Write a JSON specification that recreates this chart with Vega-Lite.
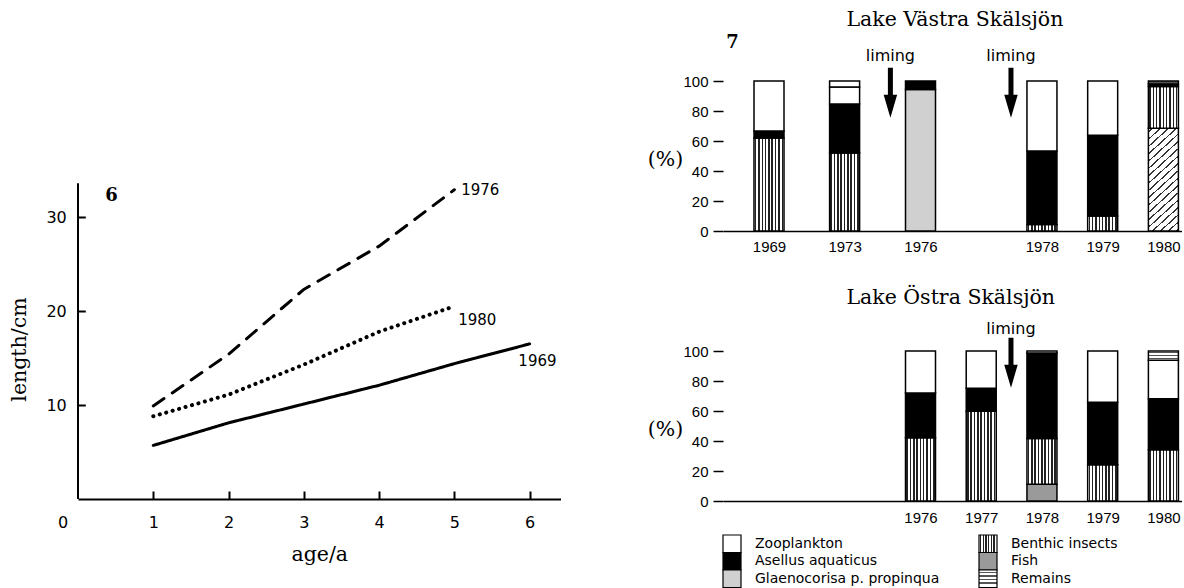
{
  "$schema": "https://vega.github.io/schema/vega-lite/v6.json",
  "background": "white",
  "padding": {"left": 9, "top": 9, "right": 0, "bottom": 0},
  "config": {
    "view": {"stroke": null},
    "axis": {"domainColor": "black", "tickColor": "black", "labelColor": "black", "titleColor": "black", "grid": false, "labelFlush": false, "labelOverlap": false},
    "title": {"color": "black"}
  },
  "spacing": 86,
  "hconcat": [
    {
      "width": 482.5,
      "height": 418,
      "layer": [
        {
          "data": {"values": [
            {"series": "1976", "age": 1, "length": 9.9},
            {"series": "1976", "age": 2, "length": 15.4},
            {"series": "1976", "age": 3, "length": 22.3},
            {"series": "1976", "age": 4, "length": 26.9},
            {"series": "1976", "age": 5, "length": 32.9},
            {"series": "1980", "age": 1, "length": 8.8},
            {"series": "1980", "age": 2, "length": 11.1},
            {"series": "1980", "age": 3, "length": 14.3},
            {"series": "1980", "age": 4, "length": 17.8},
            {"series": "1980", "age": 5, "length": 20.5},
            {"series": "1969", "age": 1, "length": 5.7},
            {"series": "1969", "age": 2, "length": 8.1},
            {"series": "1969", "age": 3, "length": 10.1},
            {"series": "1969", "age": 4, "length": 12.1},
            {"series": "1969", "age": 5, "length": 14.4},
            {"series": "1969", "age": 6, "length": 16.5}
          ]},
          "layer": [
            {
              "transform": [{"filter": "datum.series !== '1980'"}],
              "mark": {"type": "line", "color": "black", "strokeWidth": 3, "strokeCap": "round"},
              "encoding": {
                "x": {
                  "field": "age", "type": "quantitative",
                  "scale": {"domain": [0, 6.41], "nice": false, "zero": false},
                  "axis": {
                    "values": [0, 1, 2, 3, 4, 5, 6], "format": "d", "labelOverlap": false,
                    "title": "age/a", "titleFont": "DejaVu Serif", "titleFontSize": 20.5, "titleFontWeight": "normal", "titlePadding": 14,
                    "labelFont": "DejaVu Sans", "labelFontSize": 16, "labelPadding": 23.5,
                    "tickSize": -8, "tickWidth": 2, "domainWidth": 2,
                    "labelOffset": {"condition": {"test": "datum.value === 0", "value": -15.5}, "value": 0},
                    "tickOpacity": {"condition": {"test": "datum.value === 0", "value": 0}, "value": 1}
                  }
                },
                "y": {
                  "field": "length", "type": "quantitative",
                  "scale": {"domain": [0, 44.47], "nice": false, "zero": false},
                  "axis": {
                    "values": [10, 20, 30], "domain": false, "labelOverlap": false,
                    "title": "length/cm", "titleFont": "DejaVu Serif", "titleFontSize": 20.5, "titleFontWeight": "normal", "titlePadding": 16, "titleY": 268,
                    "labelFont": "DejaVu Sans", "labelFontSize": 16, "labelPadding": 19,
                    "tickSize": -7.3, "tickWidth": 2
                  }
                },
                "strokeDash": {"field": "series", "type": "nominal", "scale": {"domain": ["1969", "1976"], "range": [[1, 0], [13, 10]]}, "legend": null}
              }
            },
            {
              "transform": [{"filter": "datum.series === '1980'"}],
              "mark": {"type": "line", "color": "black", "strokeWidth": 4, "strokeCap": "round", "strokeDash": [0.1, 6.6]},
              "encoding": {
                "x": {"field": "age", "type": "quantitative"},
                "y": {"field": "length", "type": "quantitative"}
              }
            }
          ]
        },
        {
          "data": {"values": [{}]},
          "mark": {"type": "rule", "strokeWidth": 2, "color": "black"},
          "encoding": {"x": {"datum": 0}, "y": {"datum": 0}, "y2": {"datum": 33.6}}
        },
        {
          "data": {"values": [{}]},
          "mark": {"type": "text", "text": "1976", "align": "left", "baseline": "middle", "font": "DejaVu Sans", "fontSize": 15, "color": "black"},
          "encoding": {"x": {"datum": 5.09}, "y": {"datum": 32.85}}
        },
        {
          "data": {"values": [{}]},
          "mark": {"type": "text", "text": "1980", "align": "left", "baseline": "middle", "font": "DejaVu Sans", "fontSize": 15, "color": "black"},
          "encoding": {"x": {"datum": 5.05}, "y": {"datum": 19.0}}
        },
        {
          "data": {"values": [{}]},
          "mark": {"type": "text", "text": "1969", "align": "left", "baseline": "middle", "font": "DejaVu Sans", "fontSize": 15, "color": "black"},
          "encoding": {"x": {"datum": 5.85}, "y": {"datum": 14.66}}
        },
        {
          "data": {"values": [{}]},
          "mark": {"type": "text", "text": "6", "align": "center", "baseline": "middle", "font": "DejaVu Serif", "fontSize": 18, "fontWeight": "bold", "color": "black"},
          "encoding": {"x": {"datum": 0.445}, "y": {"datum": 32.2}}
        }
      ]
    },
    {
      "spacing": 33,
      "vconcat": [
        {
          "width": 459,
          "height": 150,
          "title": {"text": "Lake Västra Skälsjön", "font": "DejaVu Serif", "fontSize": 20.5, "fontWeight": "normal", "anchor": "start", "frame": "group", "dx": 123.4, "offset": 3.4, "color": "black"},
          "resolve": {"scale": {"y": "independent"}, "axis": {"y": "independent"}},
          "layer": [
            {
              "data": {"values": [
                {"year": 1969, "cat": "Benthic insects", "pct": 62},
                {"year": 1969, "cat": "Asellus aquaticus", "pct": 4.7},
                {"year": 1969, "cat": "Zooplankton", "pct": 33.3},
                {"year": 1973, "cat": "Benthic insects", "pct": 52},
                {"year": 1973, "cat": "Asellus aquaticus", "pct": 32.6},
                {"year": 1973, "cat": "Zooplankton", "pct": 11.4},
                {"year": 1973, "cat": "Remains", "pct": 4},
                {"year": 1976, "cat": "Glaenocorisa p. propinqua", "pct": 94.4},
                {"year": 1976, "cat": "Asellus aquaticus", "pct": 5.6},
                {"year": 1978, "cat": "Benthic insects", "pct": 4.4},
                {"year": 1978, "cat": "Asellus aquaticus", "pct": 48.9},
                {"year": 1978, "cat": "Zooplankton", "pct": 46.7},
                {"year": 1979, "cat": "Benthic insects", "pct": 10},
                {"year": 1979, "cat": "Asellus aquaticus", "pct": 53.8},
                {"year": 1979, "cat": "Zooplankton", "pct": 36.2},
                {"year": 1980, "cat": "Other", "pct": 68.5},
                {"year": 1980, "cat": "Benthic insects", "pct": 27.8},
                {"year": 1980, "cat": "Asellus aquaticus", "pct": 1.7},
                {"year": 1980, "cat": "Remains", "pct": 2}
              ]},
              "transform": [{"calculate": "indexof(['Other','Fish','Glaenocorisa p. propinqua','Benthic insects','Asellus aquaticus','Zooplankton','Remains'], datum.cat)", "as": "so"}],
              "mark": {"type": "bar", "width": 30, "stroke": "black", "strokeWidth": 1.5},
              "encoding": {
                "x": {
                  "field": "year", "type": "quantitative",
                  "scale": {"type": "linear", "domain": [1966, 1969, 1973, 1976, 1980, 1980.31], "range": [0, 46, 121.6, 197.5, 440.4, 459], "nice": false, "zero": false},
                  "axis": {"values": [1969, 1973, 1976, 1978, 1979, 1980], "format": "d", "title": null, "ticks": false, "labelOverlap": false, "labelPadding": 8, "labelFont": "Liberation Sans Narrow, Liberation Sans", "labelFontSize": 15, "domainWidth": 1.5}
                },
                "y": {
                  "field": "pct", "type": "quantitative", "stack": "zero",
                  "scale": {"domain": [0, 100], "nice": false},
                  "axis": {"values": [0, 20, 40, 60, 80, 100], "labelOverlap": false, "labelSeparation": -30, "title": "(%)", "titleAngle": 0, "titleFont": "DejaVu Serif", "titleFontSize": 20.5, "titleFontWeight": "normal", "titleAlign": "right", "titleBaseline": "middle", "titleX": -40.3, "titleY": 78.3, "domain": false, "tickSize": 10, "tickWidth": 1.5, "labelPadding": 5, "labelFont": "Liberation Sans Narrow, Liberation Sans", "labelFontSize": 15}
                },
                "fill": {
                  "field": "cat", "type": "nominal", "legend": null,
                  "scale": {
                    "domain": ["Zooplankton", "Benthic insects", "Asellus aquaticus", "Fish", "Glaenocorisa p. propinqua", "Remains", "Other"],
                    "range": ["white", "#777777", "black", "#9a9a9a", "#d0d0d0", "#aaaaaa", "#bbbbbb"]
                  },
                  "condition": [
                    {"test": "datum.cat === 'Benthic insects'", "value": {"gradient": "linear", "x1": 0, "y1": 0, "x2": 1, "y2": 0, "stops": [
                      {"offset": 0, "color": "white"},
                      {"offset": 0.028, "color": "white"}, {"offset": 0.028, "color": "#222"}, {"offset": 0.078, "color": "#222"}, {"offset": 0.078, "color": "white"},
                      {"offset": 0.139, "color": "white"}, {"offset": 0.139, "color": "#222"}, {"offset": 0.189, "color": "#222"}, {"offset": 0.189, "color": "white"},
                      {"offset": 0.25, "color": "white"}, {"offset": 0.25, "color": "#222"}, {"offset": 0.3, "color": "#222"}, {"offset": 0.3, "color": "white"},
                      {"offset": 0.361, "color": "white"}, {"offset": 0.361, "color": "#222"}, {"offset": 0.411, "color": "#222"}, {"offset": 0.411, "color": "white"},
                      {"offset": 0.472, "color": "white"}, {"offset": 0.472, "color": "#222"}, {"offset": 0.522, "color": "#222"}, {"offset": 0.522, "color": "white"},
                      {"offset": 0.583, "color": "white"}, {"offset": 0.583, "color": "#222"}, {"offset": 0.633, "color": "#222"}, {"offset": 0.633, "color": "white"},
                      {"offset": 0.694, "color": "white"}, {"offset": 0.694, "color": "#222"}, {"offset": 0.744, "color": "#222"}, {"offset": 0.744, "color": "white"},
                      {"offset": 0.806, "color": "white"}, {"offset": 0.806, "color": "#222"}, {"offset": 0.856, "color": "#222"}, {"offset": 0.856, "color": "white"},
                      {"offset": 0.917, "color": "white"}, {"offset": 0.917, "color": "#222"}, {"offset": 0.967, "color": "#222"}, {"offset": 0.967, "color": "white"},
                      {"offset": 1, "color": "white"}
                    ]}},
                    {"test": "datum.cat === 'Remains'", "value": {"gradient": "linear", "x1": 0, "y1": 0, "x2": 0, "y2": 1, "stops": [
                      {"offset": 0, "color": "white"},
                      {"offset": 0.1, "color": "white"}, {"offset": 0.1, "color": "#555"}, {"offset": 0.233, "color": "#555"}, {"offset": 0.233, "color": "white"},
                      {"offset": 0.433, "color": "white"}, {"offset": 0.433, "color": "#555"}, {"offset": 0.567, "color": "#555"}, {"offset": 0.567, "color": "white"},
                      {"offset": 0.767, "color": "white"}, {"offset": 0.767, "color": "#555"}, {"offset": 0.9, "color": "#555"}, {"offset": 0.9, "color": "white"},
                      {"offset": 1, "color": "white"}
                    ]}},
                    {"test": "datum.cat === 'Other'", "value": {"gradient": "linear", "x1": 0, "y1": 0, "x2": 0.32, "y2": 1.2, "stops": [
                      {"offset": 0, "color": "white"},
                      {"offset": 0.0217, "color": "white"}, {"offset": 0.0217, "color": "#333"}, {"offset": 0.0339, "color": "#333"}, {"offset": 0.0339, "color": "white"},
                      {"offset": 0.0772, "color": "white"}, {"offset": 0.0772, "color": "#333"}, {"offset": 0.0894, "color": "#333"}, {"offset": 0.0894, "color": "white"},
                      {"offset": 0.1328, "color": "white"}, {"offset": 0.1328, "color": "#333"}, {"offset": 0.145, "color": "#333"}, {"offset": 0.145, "color": "white"},
                      {"offset": 0.1883, "color": "white"}, {"offset": 0.1883, "color": "#333"}, {"offset": 0.2006, "color": "#333"}, {"offset": 0.2006, "color": "white"},
                      {"offset": 0.2439, "color": "white"}, {"offset": 0.2439, "color": "#333"}, {"offset": 0.2561, "color": "#333"}, {"offset": 0.2561, "color": "white"},
                      {"offset": 0.2994, "color": "white"}, {"offset": 0.2994, "color": "#333"}, {"offset": 0.3117, "color": "#333"}, {"offset": 0.3117, "color": "white"},
                      {"offset": 0.355, "color": "white"}, {"offset": 0.355, "color": "#333"}, {"offset": 0.3672, "color": "#333"}, {"offset": 0.3672, "color": "white"},
                      {"offset": 0.4106, "color": "white"}, {"offset": 0.4106, "color": "#333"}, {"offset": 0.4228, "color": "#333"}, {"offset": 0.4228, "color": "white"},
                      {"offset": 0.4661, "color": "white"}, {"offset": 0.4661, "color": "#333"}, {"offset": 0.4783, "color": "#333"}, {"offset": 0.4783, "color": "white"},
                      {"offset": 0.5217, "color": "white"}, {"offset": 0.5217, "color": "#333"}, {"offset": 0.5339, "color": "#333"}, {"offset": 0.5339, "color": "white"},
                      {"offset": 0.5772, "color": "white"}, {"offset": 0.5772, "color": "#333"}, {"offset": 0.5894, "color": "#333"}, {"offset": 0.5894, "color": "white"},
                      {"offset": 0.6328, "color": "white"}, {"offset": 0.6328, "color": "#333"}, {"offset": 0.645, "color": "#333"}, {"offset": 0.645, "color": "white"},
                      {"offset": 0.6883, "color": "white"}, {"offset": 0.6883, "color": "#333"}, {"offset": 0.7006, "color": "#333"}, {"offset": 0.7006, "color": "white"},
                      {"offset": 0.7439, "color": "white"}, {"offset": 0.7439, "color": "#333"}, {"offset": 0.7561, "color": "#333"}, {"offset": 0.7561, "color": "white"},
                      {"offset": 0.7994, "color": "white"}, {"offset": 0.7994, "color": "#333"}, {"offset": 0.8117, "color": "#333"}, {"offset": 0.8117, "color": "white"},
                      {"offset": 0.855, "color": "white"}, {"offset": 0.855, "color": "#333"}, {"offset": 0.8672, "color": "#333"}, {"offset": 0.8672, "color": "white"},
                      {"offset": 0.9106, "color": "white"}, {"offset": 0.9106, "color": "#333"}, {"offset": 0.9228, "color": "#333"}, {"offset": 0.9228, "color": "white"},
                      {"offset": 0.9661, "color": "white"}, {"offset": 0.9661, "color": "#333"}, {"offset": 0.9783, "color": "#333"}, {"offset": 0.9783, "color": "white"},
                      {"offset": 1, "color": "white"}
                    ]}}
                  ]
                },
                "order": {"field": "so", "type": "quantitative", "sort": "ascending"}
              }
            },
            {
              "data": {"values": [{"event": "liming", "year": 1974.81}, {"event": "liming", "year": 1977.49}]},
              "layer": [
                {
                  "mark": {"type": "point", "shape": "M-0.1,-1L0.1,-1L0.1,0.08L0.27,0.08L0,1L-0.27,0.08L-0.1,0.08Z", "size": 2500, "filled": true, "color": "black", "opacity": 1, "strokeWidth": 0},
                  "encoding": {"x": {"field": "year", "type": "quantitative", "title": null}, "y": {"datum": 92.2, "scale": {"domain": [0, 100], "nice": false}, "axis": null}}
                },
                {
                  "mark": {"type": "text", "font": "DejaVu Sans", "fontSize": 16, "baseline": "middle", "align": "center", "color": "black"},
                  "encoding": {"x": {"field": "year", "type": "quantitative", "title": null}, "y": {"datum": 116.5, "scale": {"domain": [0, 100], "nice": false}, "axis": null}, "text": {"field": "event"}}
                }
              ]
            },
            {
              "data": {"values": [{}]},
              "mark": {"type": "text", "text": "7", "font": "DejaVu Serif", "fontSize": 18, "fontWeight": "bold", "baseline": "middle", "align": "center", "color": "black"},
              "encoding": {"x": {"datum": 1966.49}, "y": {"datum": 125.5, "scale": {"domain": [0, 100], "nice": false}, "axis": null}}
            }
          ]
        },
        {
          "spacing": 9,
          "vconcat": [
            {
              "width": 459,
              "height": 150,
              "title": {"text": "Lake Östra Skälsjön", "font": "DejaVu Serif", "fontSize": 20.5, "fontWeight": "normal", "anchor": "start", "frame": "group", "dx": 123.4, "offset": 12.7, "color": "black"},
              "resolve": {"scale": {"y": "independent"}, "axis": {"y": "independent"}},
              "layer": [
                {
                  "data": {"values": [
                    {"year": 1976, "cat": "Benthic insects", "pct": 42.2},
                    {"year": 1976, "cat": "Asellus aquaticus", "pct": 29.8},
                    {"year": 1976, "cat": "Zooplankton", "pct": 28},
                    {"year": 1977, "cat": "Benthic insects", "pct": 59.8},
                    {"year": 1977, "cat": "Asellus aquaticus", "pct": 15.3},
                    {"year": 1977, "cat": "Zooplankton", "pct": 24.9},
                    {"year": 1978, "cat": "Fish", "pct": 11.1},
                    {"year": 1978, "cat": "Benthic insects", "pct": 30.5},
                    {"year": 1978, "cat": "Asellus aquaticus", "pct": 57.1},
                    {"year": 1978, "cat": "Zooplankton", "pct": 1.3},
                    {"year": 1979, "cat": "Benthic insects", "pct": 24.2},
                    {"year": 1979, "cat": "Asellus aquaticus", "pct": 41.6},
                    {"year": 1979, "cat": "Zooplankton", "pct": 34.2},
                    {"year": 1980, "cat": "Benthic insects", "pct": 34.2},
                    {"year": 1980, "cat": "Asellus aquaticus", "pct": 34},
                    {"year": 1980, "cat": "Zooplankton", "pct": 25.6},
                    {"year": 1980, "cat": "Remains", "pct": 6.2}
                  ]},
                  "transform": [{"calculate": "indexof(['Other','Fish','Glaenocorisa p. propinqua','Benthic insects','Asellus aquaticus','Zooplankton','Remains'], datum.cat)", "as": "so"}],
                  "mark": {"type": "bar", "width": 30, "stroke": "black", "strokeWidth": 1.5},
                  "encoding": {
                    "x": {
                      "field": "year", "type": "quantitative",
                      "scale": {"type": "linear", "domain": [1966, 1969, 1973, 1976, 1980, 1980.31], "range": [0, 46, 121.6, 197.5, 440.4, 459], "nice": false, "zero": false},
                      "axis": {"values": [1976, 1977, 1978, 1979, 1980], "format": "d", "title": null, "ticks": false, "labelOverlap": false, "labelPadding": 9, "labelFont": "Liberation Sans Narrow, Liberation Sans", "labelFontSize": 15, "domainWidth": 1.5}
                    },
                    "y": {
                      "field": "pct", "type": "quantitative", "stack": "zero",
                      "scale": {"domain": [0, 100], "nice": false},
                      "axis": {"values": [0, 20, 40, 60, 80, 100], "labelOverlap": false, "labelSeparation": -30, "title": "(%)", "titleAngle": 0, "titleFont": "DejaVu Serif", "titleFontSize": 20.5, "titleFontWeight": "normal", "titleAlign": "right", "titleBaseline": "middle", "titleX": -40.3, "titleY": 78.3, "domain": false, "tickSize": 10, "tickWidth": 1.5, "labelPadding": 5, "labelFont": "Liberation Sans Narrow, Liberation Sans", "labelFontSize": 15}
                    },
                    "fill": {
                      "field": "cat", "type": "nominal", "legend": null,
                      "scale": {
                        "domain": ["Zooplankton", "Benthic insects", "Asellus aquaticus", "Fish", "Glaenocorisa p. propinqua", "Remains", "Other"],
                        "range": ["white", "#777777", "black", "#9a9a9a", "#d0d0d0", "#aaaaaa", "#bbbbbb"]
                      },
                      "condition": [
                        {"test": "datum.cat === 'Benthic insects'", "value": {"gradient": "linear", "x1": 0, "y1": 0, "x2": 1, "y2": 0, "stops": [
                          {"offset": 0, "color": "white"},
                          {"offset": 0.028, "color": "white"}, {"offset": 0.028, "color": "#222"}, {"offset": 0.078, "color": "#222"}, {"offset": 0.078, "color": "white"},
                          {"offset": 0.139, "color": "white"}, {"offset": 0.139, "color": "#222"}, {"offset": 0.189, "color": "#222"}, {"offset": 0.189, "color": "white"},
                          {"offset": 0.25, "color": "white"}, {"offset": 0.25, "color": "#222"}, {"offset": 0.3, "color": "#222"}, {"offset": 0.3, "color": "white"},
                          {"offset": 0.361, "color": "white"}, {"offset": 0.361, "color": "#222"}, {"offset": 0.411, "color": "#222"}, {"offset": 0.411, "color": "white"},
                          {"offset": 0.472, "color": "white"}, {"offset": 0.472, "color": "#222"}, {"offset": 0.522, "color": "#222"}, {"offset": 0.522, "color": "white"},
                          {"offset": 0.583, "color": "white"}, {"offset": 0.583, "color": "#222"}, {"offset": 0.633, "color": "#222"}, {"offset": 0.633, "color": "white"},
                          {"offset": 0.694, "color": "white"}, {"offset": 0.694, "color": "#222"}, {"offset": 0.744, "color": "#222"}, {"offset": 0.744, "color": "white"},
                          {"offset": 0.806, "color": "white"}, {"offset": 0.806, "color": "#222"}, {"offset": 0.856, "color": "#222"}, {"offset": 0.856, "color": "white"},
                          {"offset": 0.917, "color": "white"}, {"offset": 0.917, "color": "#222"}, {"offset": 0.967, "color": "#222"}, {"offset": 0.967, "color": "white"},
                          {"offset": 1, "color": "white"}
                        ]}},
                        {"test": "datum.cat === 'Remains'", "value": {"gradient": "linear", "x1": 0, "y1": 0, "x2": 0, "y2": 1, "stops": [
                          {"offset": 0, "color": "white"},
                          {"offset": 0.1, "color": "white"}, {"offset": 0.1, "color": "#555"}, {"offset": 0.233, "color": "#555"}, {"offset": 0.233, "color": "white"},
                          {"offset": 0.433, "color": "white"}, {"offset": 0.433, "color": "#555"}, {"offset": 0.567, "color": "#555"}, {"offset": 0.567, "color": "white"},
                          {"offset": 0.767, "color": "white"}, {"offset": 0.767, "color": "#555"}, {"offset": 0.9, "color": "#555"}, {"offset": 0.9, "color": "white"},
                          {"offset": 1, "color": "white"}
                        ]}}
                      ]
                    },
                    "order": {"field": "so", "type": "quantitative", "sort": "ascending"}
                  }
                },
                {
                  "data": {"values": [{"event": "liming", "year": 1977.49}]},
                  "layer": [
                    {
                      "mark": {"type": "point", "shape": "M-0.1,-1L0.1,-1L0.1,0.08L0.27,0.08L0,1L-0.27,0.08L-0.1,0.08Z", "size": 2500, "filled": true, "color": "black", "opacity": 1, "strokeWidth": 0},
                      "encoding": {"x": {"field": "year", "type": "quantitative", "title": null}, "y": {"datum": 92.2, "scale": {"domain": [0, 100], "nice": false}, "axis": null}}
                    },
                    {
                      "mark": {"type": "text", "font": "DejaVu Sans", "fontSize": 16, "baseline": "middle", "align": "center", "color": "black"},
                      "encoding": {"x": {"field": "year", "type": "quantitative", "title": null}, "y": {"datum": 114.8, "scale": {"domain": [0, 100], "nice": false}, "axis": null}, "text": {"field": "event"}}
                    }
                  ]
                }
              ]
            },
            {
              "spacing": 38,
              "hconcat": [
                {
                  "width": 100,
                  "height": 52.5,
                  "data": {"values": [{"cat": "Zooplankton"}, {"cat": "Asellus aquaticus"}, {"cat": "Glaenocorisa p. propinqua"}]},
                  "encoding": {"y": {"field": "cat", "type": "nominal", "axis": null, "scale": {"domain": ["Zooplankton", "Asellus aquaticus", "Glaenocorisa p. propinqua"], "paddingInner": 0, "paddingOuter": 0}}},
                  "layer": [
                    {
                      "mark": {"type": "bar", "stroke": "black", "strokeWidth": 1.2},
                      "encoding": {
                        "x": {"datum": 0, "type": "quantitative", "scale": {"domain": [0, 10], "nice": false, "zero": false}, "axis": null},
                        "x2": {"datum": 1.8},
                        "fill": {
                          "field": "cat", "type": "nominal", "legend": null,
                          "scale": {
                            "domain": ["Zooplankton", "Benthic insects", "Asellus aquaticus", "Fish", "Glaenocorisa p. propinqua", "Remains", "Other"],
                            "range": ["white", "#777777", "black", "#9a9a9a", "#d0d0d0", "#aaaaaa", "#bbbbbb"]
                          }
                        }
                      }
                    },
                    {
                      "mark": {"type": "text", "align": "left", "baseline": "middle", "font": "DejaVu Sans", "fontSize": 14, "color": "black"},
                      "encoding": {"x": {"datum": 3.2}, "text": {"field": "cat"}}
                    }
                  ]
                },
                {
                  "width": 100,
                  "height": 52.5,
                  "data": {"values": [{"cat": "Benthic insects"}, {"cat": "Fish"}, {"cat": "Remains"}]},
                  "encoding": {"y": {"field": "cat", "type": "nominal", "axis": null, "scale": {"domain": ["Benthic insects", "Fish", "Remains"], "paddingInner": 0, "paddingOuter": 0}}},
                  "layer": [
                    {
                      "mark": {"type": "bar", "stroke": "black", "strokeWidth": 1.2},
                      "encoding": {
                        "x": {"datum": 0, "type": "quantitative", "scale": {"domain": [0, 10], "nice": false, "zero": false}, "axis": null},
                        "x2": {"datum": 1.8},
                        "fill": {
                          "field": "cat", "type": "nominal", "legend": null,
                          "scale": {
                            "domain": ["Zooplankton", "Benthic insects", "Asellus aquaticus", "Fish", "Glaenocorisa p. propinqua", "Remains", "Other"],
                            "range": ["white", "#777777", "black", "#9a9a9a", "#d0d0d0", "#aaaaaa", "#bbbbbb"]
                          },
                          "condition": [
                            {"test": "datum.cat === 'Benthic insects'", "value": {"gradient": "linear", "x1": 0, "y1": 0, "x2": 1, "y2": 0, "stops": [
                              {"offset": 0, "color": "white"},
                              {"offset": 0.05, "color": "white"}, {"offset": 0.05, "color": "#222"}, {"offset": 0.12, "color": "#222"}, {"offset": 0.12, "color": "white"},
                              {"offset": 0.2, "color": "white"}, {"offset": 0.2, "color": "#222"}, {"offset": 0.27, "color": "#222"}, {"offset": 0.27, "color": "white"},
                              {"offset": 0.35, "color": "white"}, {"offset": 0.35, "color": "#222"}, {"offset": 0.42, "color": "#222"}, {"offset": 0.42, "color": "white"},
                              {"offset": 0.5, "color": "white"}, {"offset": 0.5, "color": "#222"}, {"offset": 0.57, "color": "#222"}, {"offset": 0.57, "color": "white"},
                              {"offset": 0.65, "color": "white"}, {"offset": 0.65, "color": "#222"}, {"offset": 0.72, "color": "#222"}, {"offset": 0.72, "color": "white"},
                              {"offset": 0.8, "color": "white"}, {"offset": 0.8, "color": "#222"}, {"offset": 0.87, "color": "#222"}, {"offset": 0.87, "color": "white"},
                              {"offset": 1, "color": "white"}
                            ]}},
                            {"test": "datum.cat === 'Remains'", "value": {"gradient": "linear", "x1": 0, "y1": 0, "x2": 0, "y2": 1, "stops": [
                              {"offset": 0, "color": "white"},
                              {"offset": 0.1, "color": "white"}, {"offset": 0.1, "color": "#555"}, {"offset": 0.18, "color": "#555"}, {"offset": 0.18, "color": "white"},
                              {"offset": 0.3, "color": "white"}, {"offset": 0.3, "color": "#555"}, {"offset": 0.38, "color": "#555"}, {"offset": 0.38, "color": "white"},
                              {"offset": 0.5, "color": "white"}, {"offset": 0.5, "color": "#555"}, {"offset": 0.58, "color": "#555"}, {"offset": 0.58, "color": "white"},
                              {"offset": 0.7, "color": "white"}, {"offset": 0.7, "color": "#555"}, {"offset": 0.78, "color": "#555"}, {"offset": 0.78, "color": "white"},
                              {"offset": 1, "color": "white"}
                            ]}}
                          ]
                        }
                      }
                    },
                    {
                      "mark": {"type": "text", "align": "left", "baseline": "middle", "font": "DejaVu Sans", "fontSize": 14, "color": "black"},
                      "encoding": {"x": {"datum": 3.2}, "text": {"field": "cat"}}
                    }
                  ]
                }
              ]
            }
          ]
        }
      ]
    }
  ]
}
